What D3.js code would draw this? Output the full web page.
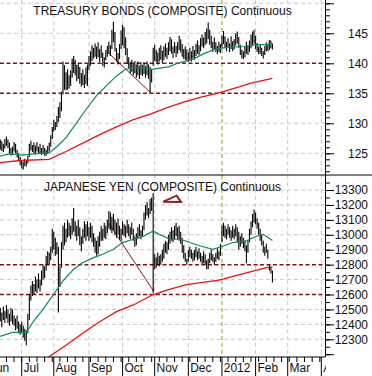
<!DOCTYPE html>
<html>
<head>
<meta charset="utf-8">
<script src="https://cdn.jsdelivr.net/npm/d3@7"></script>
<style>
  html, body { margin: 0; padding: 0; background: #fff; }
  svg { display: block; font-family: Arial, "Liberation Sans", sans-serif; }
</style>
</head>
<body>
<svg id="chart" width="372" height="376"></svg>
<script>
// daily bars, one value per weekday starting here
const firstBar = '2011-06-09';

const bondHigh = [
  127.2,127.6,127.3,127.0,126.6,127.4,127.8,127.3,126.8,125.9,126.1,126.9,126.6,125.6,125.0,124.4,
  123.9,123.6,124.1,123.8,124.6,126.6,127.1,126.4,126.8,126.3,
  126.9,126.1,126.6,125.9,126.4,125.9,125.6,126.2,126.8,128.0,
  129.4,130.6,130.2,131.2,132.7,133.5,135.3,140.3,139.7,138.5,
  139.0,138.0,138.8,140.8,141.2,140.6,139.7,140.0,139.4,138.4,
  139.0,138.1,139.3,139.8,141.2,142.0,143.0,142.6,143.3,142.8,
  143.5,142.4,143.0,141.8,141.0,142.2,142.9,143.6,143.0,145.6,
  146.9,145.2,142.5,141.7,143.2,145.5,146.4,146.0,144.3,142.5,
  141.0,140.2,140.6,139.9,140.4,139.8,140.3,139.6,140.2,139.7,
  140.1,139.5,140.3,139.8,139.4,139.0,142.6,143.1,142.2,141.8,
  142.6,143.0,142.1,142.8,143.3,142.6,143.5,144.4,144.0,142.8,
  143.6,142.9,143.5,144.6,144.0,143.2,142.4,142.8,142.3,141.8,
  142.6,142.0,142.9,142.2,143.2,143.8,143.0,144.2,144.8,144.3,
  145.2,145.8,146.8,145.6,144.6,143.6,144.3,143.5,142.9,143.6,
  143.2,144.6,145.4,144.5,143.6,144.2,143.3,144.5,143.7,144.0,
  145.0,145.3,144.4,143.1,142.3,142.0,142.8,143.6,143.0,143.8,
  144.8,145.3,145.6,144.6,143.4,142.8,143.2,142.6,142.0,142.9,
  143.5,143.2,143.9,143.8,143.3
];
const bondLow = [
  125.8,126.0,125.6,125.4,125.2,125.8,126.2,125.9,125.0,124.6,124.9,125.3,125.0,124.3,123.8,123.0,
  122.5,122.3,122.9,122.8,123.3,124.4,125.5,125.2,125.0,124.8,
  125.3,124.9,125.0,124.7,124.9,124.6,124.6,124.9,125.3,126.1,
  127.4,128.6,128.9,129.4,130.2,130.9,132.0,134.8,135.6,135.5,
  135.6,135.8,136.2,137.6,138.4,138.0,137.0,137.4,136.6,136.1,
  136.4,135.9,136.5,136.2,138.9,139.6,140.4,140.8,141.1,140.7,
  141.0,140.2,140.9,139.6,139.3,140.5,141.1,141.6,141.2,142.4,
  143.5,142.0,140.3,139.8,140.7,142.4,143.0,142.5,141.4,139.9,
  139.2,138.4,138.6,138.0,138.4,137.6,138.0,137.4,138.1,137.9,
  138.2,137.6,138.0,137.4,135.1,136.8,139.6,140.4,140.2,139.8,
  140.3,140.6,140.0,140.5,141.1,140.7,141.4,142.0,141.6,140.9,
  141.7,141.0,141.6,142.2,141.8,141.1,140.7,140.6,140.4,140.2,
  140.5,140.3,140.8,140.6,141.2,141.6,141.4,142.0,142.8,142.5,
  143.0,143.3,144.0,143.1,142.5,141.9,142.4,141.9,141.5,141.9,
  141.7,142.6,143.2,142.5,142.0,142.6,141.9,142.4,142.0,142.3,
  143.0,143.3,142.6,141.4,140.8,140.7,141.0,141.6,141.4,141.9,
  142.5,143.0,143.3,142.4,141.9,141.5,141.6,141.2,140.8,141.4,
  142.0,142.0,142.2,142.5,142.3
];
const yenHigh = [
  12470,12490,12510,12480,12520,12490,12530,12500,12470,12510,12500,12460,12440,12460,12420,12400,
  12420,12390,12370,12360,12470,12600,12660,12690,12670,12720,
  12700,12740,12700,12760,12800,12790,12860,12890,12880,12920,
  13040,13020,12980,12950,12920,12790,12950,13060,13080,13040,
  13100,13080,13060,13110,13180,13090,13060,13100,13050,12990,
  13040,13090,13070,13090,13050,13080,13060,13010,12980,12960,
  12990,13020,13060,13040,13080,13060,13100,13160,13150,13120,
  13140,13100,13080,13110,13060,13040,13090,13070,13060,13100,
  13070,13050,13080,13040,12990,13010,13050,13070,13030,13060,
  13150,13200,13220,13180,13240,13250,13280,12870,12850,12880,
  12860,12870,12900,12940,12960,12950,13000,13020,13050,13030,
  13060,13080,13050,13060,13020,12980,12930,12880,12840,12900,
  12920,12900,12880,12900,12920,12890,12910,12880,12860,12890,
  12870,12830,12840,12880,12900,12870,12850,12880,12910,12890,
  12940,13060,13080,13060,13040,13070,13050,13030,13060,13040,
  13070,13050,13020,12990,13010,12980,12960,12930,12960,13040,
  13090,13140,13170,13150,13110,13080,13040,13000,12960,12920,
  12940,12900,12800,12790,12760
];
const yenLow = [
  12400,12410,12420,12380,12430,12410,12440,12410,12390,12420,12400,12390,12360,12370,12340,12330,
  12340,12310,12290,12260,12340,12430,12560,12590,12600,12620,
  12610,12640,12620,12660,12700,12710,12760,12800,12800,12830,
  12880,12900,12860,12870,12480,12650,12780,12900,12930,12950,
  12980,12990,12970,13000,13020,12990,12960,12990,12930,12890,
  12940,12980,12960,12990,12960,12980,12950,12920,12880,12860,
  12870,12920,12960,12960,12980,12970,13010,13040,13030,13010,
  13030,13000,12980,13000,12970,12960,13000,12990,12980,13010,
  12990,12970,13000,12960,12920,12930,12970,12990,12970,12990,
  13030,13100,13130,13110,13140,13160,12610,12770,12780,12800,
  12790,12800,12820,12840,12880,12870,12900,12940,12960,12950,
  12970,12990,12970,12960,12940,12880,12840,12820,12800,12820,
  12850,12840,12820,12830,12850,12830,12840,12820,12800,12810,
  12800,12770,12770,12810,12830,12820,12800,12820,12840,12830,
  12860,12950,12990,12980,12970,13000,12980,12960,12980,12970,
  12990,12950,12900,12920,12940,12910,12890,12810,12880,12950,
  13000,13050,13080,13070,13040,13000,12960,12930,12880,12860,
  12880,12840,12760,12740,12680
];

// moving averages: [weekdays after 2011-07-01, value]
const bondMaShort = [[-16,124.4],[-8,124.9],[0,124.7],[8,124.9],[18,125.1],[23,126.1],[29,127.6],[36,130.1],[42,132.3],[49,134.6],[56,136.4],[62,137.9],[68,139.0],[74,139.3],[85,139.0],[96,139.4],[102,140.0],[112,140.7],[120,141.7],[126,142.3],[135,142.7],[146,142.8],[153,143.1],[160,143.1],[164,143.3]];
const bondMaLong = [[-16,123.4],[-1,123.8],[18,124.0],[29,125.3],[40,126.7],[51,128.1],[62,129.4],[73,130.6],[85,131.6],[96,132.7],[107,133.6],[118,134.4],[128,135.0],[140,135.9],[150,136.7],[164,137.5]];
const yenMaShort = [[-16,12313],[-6,12346],[3,12346],[8,12424],[14,12502],[21,12602],[27,12691],[34,12769],[40,12814],[47,12847],[53,12870],[60,12903],[66,12948],[73,12970],[80,12992],[86,13026],[90,13003],[97,12970],[104,12970],[110,12948],[117,12925],[125,12903],[132,12925],[138,12948],[147,12959],[154,12992],[158,13003],[164,12962]];
const yenMaLong = [[16,12170],[29,12260],[42,12355],[51,12418],[62,12485],[73,12530],[86,12600],[95,12630],[107,12664],[129,12697],[142,12731],[160,12780],[164,12782]];

const bondTrend = [[56,141.9],[84,135.2]];
const yenTrend = [[57,13077],[86.5,12619]];
const yenTriangle = [[92.6,13222],[101.4,13262],[104.2,13220]];

const bondTitle = 'TREASURY BONDS (COMPOSITE) Continuous';
const yenTitle = 'JAPANESE YEN (COMPOSITE) Continuous';
const bondTicks = [125,130,135,140,145];
const yenTicks = [12300,12400,12500,12600,12700,12800,12900,13000,13100,13200,13300];
const bondLevels = [135,140];
const yenLevels = [12600,12800];
const monthNames = ['Jun','Jul','Aug','Sep','Oct','Nov','Dec','2012','Feb','Mar','Apr'];
const yearLine = '2012-01-02';

const svg = d3.select('#chart');
const plotRight = 325.5;
const axisY = 357;
const splitY = 175;

const yTop = d3.scaleLinear().domain([125, 145]).range([153.3, 33.3]);
const yBot = d3.scaleLinear().domain([12300, 13300]).range([339.3, 190]);

// weekday calendar
const days = [];
for (let t = new Date(2011, 5, 1); t <= new Date(2012, 3, 30); t.setDate(t.getDate() + 1)) {
  if (t.getDay() !== 0 && t.getDay() !== 6) days.push(new Date(t));
}
const fmt = d3.timeFormat('%Y-%m-%d');
const dayIndex = new Map(days.map((t, i) => [fmt(t), i]));
const base = dayIndex.get('2011-07-01');
const x = d3.scaleLinear()
  .domain([0, dayIndex.get('2012-03-01') - base])
  .range([21.7, 287.7]);
const barStart = dayIndex.get(firstBar) - base;

const monthStarts = [];
const fridays = [];
days.forEach((t, i) => {
  if (i === 0 || t.getMonth() !== days[i - 1].getMonth()) monthStarts.push(i - base);
  if (t.getDay() === 5) fridays.push(i - base);
});

const defs = svg.append('defs');
defs.append('clipPath').attr('id', 'clipTop').append('rect')
  .attr('x', 0).attr('y', 0).attr('width', plotRight).attr('height', splitY);
defs.append('clipPath').attr('id', 'clipBot').append('rect')
  .attr('x', 0).attr('y', splitY).attr('width', plotRight).attr('height', axisY - splitY);
defs.append('clipPath').attr('id', 'clipAxis').append('rect')
  .attr('x', 0).attr('y', axisY).attr('width', 326).attr('height', 376 - axisY);

// vertical grid
const yearD = dayIndex.get(yearLine) - base;
svg.append('g').selectAll('line')
  .data(monthStarts.filter(d => x(d) > 0 && x(d) < plotRight))
  .join('line')
  .attr('x1', d => x(d)).attr('x2', d => x(d))
  .attr('y1', 0).attr('y2', axisY)
  .attr('stroke', d => d === yearD ? '#9a9a10' : '#c8c8c8')
  .attr('stroke-dasharray', '4,3');

function drawPanel(o) {
  const g = svg.append('g').attr('clip-path', `url(#${o.clip})`);
  g.selectAll('line.hgrid')
    .data(o.grid.filter(v => !o.levels.includes(v)))
    .join('line').attr('class', 'hgrid')
    .attr('x1', 0).attr('x2', plotRight)
    .attr('y1', d => o.y(d)).attr('y2', d => o.y(d))
    .attr('stroke', '#c8c8c8').attr('stroke-dasharray', '4,3');
  g.selectAll('line.level')
    .data(o.levels)
    .join('line').attr('class', 'level')
    .attr('x1', 0).attr('x2', plotRight)
    .attr('y1', d => o.y(d)).attr('y2', d => o.y(d))
    .attr('stroke', '#8b1010').attr('stroke-width', 1.5).attr('stroke-dasharray', '4,2.5');

  const line = d3.line().x(d => x(d[0])).y(d => o.y(d[1]));
  g.append('path').attr('d', line(o.trend))
    .attr('fill', 'none').attr('stroke', '#8b1a1a').attr('stroke-width', 1);

  g.selectAll('line.bar')
    .data(o.high.map((h, i) => ({ d: barStart + i, h: h, l: o.low[i] })))
    .join('line').attr('class', 'bar')
    .attr('x1', d => x(d.d)).attr('x2', d => x(d.d))
    .attr('y1', d => o.y(d.h)).attr('y2', d => o.y(d.l))
    .attr('stroke', '#000').attr('stroke-width', 1.1);

  g.append('path').attr('d', line(o.maLong))
    .attr('fill', 'none').attr('stroke', '#ee1111').attr('stroke-width', 1.3);
  g.append('path').attr('d', line(o.maShort))
    .attr('fill', 'none').attr('stroke', '#0b8a6a').attr('stroke-width', 1.2);

  svg.append('text').attr('x', 162.5).attr('y', o.titleY)
    .attr('text-anchor', 'middle').attr('font-size', 12).attr('fill', '#111')
    .text(o.title);

  // right axis
  const ax = svg.append('g').attr('transform', `translate(${plotRight},0)`);
  ax.append('g').call(d3.axisRight(o.y).tickValues(o.minor).tickSize(4.5).tickFormat(''));
  ax.append('g').call(d3.axisRight(o.y).tickValues(o.major).tickSize(8.5).tickFormat(''));
  const lab = ax.append('g').call(d3.axisRight(o.y).tickValues(o.grid).tickSize(0).tickFormat(d3.format('d')));
  lab.selectAll('text').attr('x', 368 - plotRight).attr('text-anchor', 'end')
    .attr('font-size', 12).attr('font-family', 'Arial, "Liberation Sans", sans-serif').attr('fill', '#111');
  ax.selectAll('.domain').remove();
  ax.selectAll('line').attr('stroke', '#000');
}

drawPanel({
  clip: 'clipTop', y: yTop, grid: bondTicks, levels: bondLevels,
  high: bondHigh, low: bondLow, maShort: bondMaShort, maLong: bondMaLong,
  trend: bondTrend, title: bondTitle, titleY: 15,
  major: [125,130,135,140,145,150], minor: d3.range(122, 151)
});
svg.select('g[clip-path="url(#clipTop)"]').selectAll('line.hgrid2')
  .data([150]).join('line')
  .attr('x1', 0).attr('x2', plotRight).attr('y1', d => yTop(d)).attr('y2', d => yTop(d))
  .attr('stroke', '#c8c8c8').attr('stroke-dasharray', '4,3');

drawPanel({
  clip: 'clipBot', y: yBot, grid: yenTicks, levels: yenLevels,
  high: yenHigh, low: yenLow, maShort: yenMaShort, maLong: yenMaLong,
  trend: yenTrend, title: yenTitle, titleY: 190.5,
  major: d3.range(12200, 13301, 100), minor: d3.range(12200, 13351, 50)
});

// annotation triangle
svg.append('path')
  .attr('d', d3.line().x(d => x(d[0])).y(d => yBot(d[1])).curve(d3.curveLinearClosed)(yenTriangle))
  .attr('fill', '#fff').attr('stroke', '#9b1b1b').attr('stroke-width', 2).attr('stroke-linejoin', 'miter');

// frame lines
svg.append('line').attr('x1', 0).attr('x2', 372).attr('y1', splitY).attr('y2', splitY).attr('stroke', '#000');
svg.append('line').attr('x1', plotRight).attr('x2', plotRight).attr('y1', 0).attr('y2', axisY).attr('stroke', '#000');
svg.append('line').attr('x1', 0).attr('x2', plotRight).attr('y1', axisY).attr('y2', axisY).attr('stroke', '#000');

// bottom date axis
const xa = svg.append('g').attr('clip-path', 'url(#clipAxis)');
xa.selectAll('line.wk').data(fridays).join('line').attr('class', 'wk')
  .attr('x1', d => x(d)).attr('x2', d => x(d)).attr('y1', axisY).attr('y2', axisY + 5)
  .attr('stroke', '#000');
xa.selectAll('line.mo').data(monthStarts).join('line').attr('class', 'mo')
  .attr('x1', d => x(d)).attr('x2', d => x(d)).attr('y1', axisY).attr('y2', 376)
  .attr('stroke', '#000');
xa.selectAll('text').data(monthStarts).join('text')
  .attr('x', d => x(d) + 1.8).attr('y', 372)
  .attr('font-size', 12).attr('fill', '#111')
  .text((d, i) => monthNames[i]);
</script>
</body>
</html>
